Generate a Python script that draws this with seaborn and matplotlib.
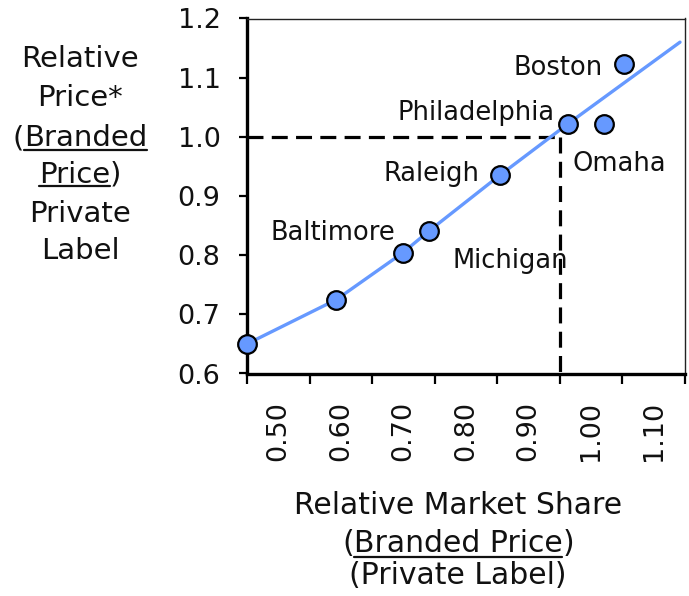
import matplotlib
matplotlib.use("Agg")
import matplotlib.pyplot as plt
from matplotlib.lines import Line2D
import pandas as pd
import seaborn as sns

# city points (x = relative market share, y = relative price)
cities = ['Unlabelled A', 'Unlabelled B', 'Baltimore', 'Michigan', 'Raleigh',
          'Philadelphia', 'Omaha', 'Boston']
share = [0.45, 0.593, 0.699, 0.741, 0.854, 0.963, 1.020, 1.053]
price = [0.650, 0.725, 0.804, 0.841, 0.935, 1.022, 1.022, 1.123]

# fitted trend line
fit_share = [0.45, 0.593, 0.699, 0.741, 0.854, 0.963, 1.142]
fit_price = [0.650, 0.725, 0.804, 0.841, 0.935, 1.022, 1.160]

# reference point (dashed guides)
ref_share = 0.95
ref_price = 1.0

x_labels = ['0.50', '0.60', '0.70', '0.80', '0.90', '1.00', '1.10']
x_label_pos = [0.50, 0.60, 0.70, 0.80, 0.90, 1.00, 1.10]
x_bounds = [0.45, 0.55, 0.65, 0.75, 0.85, 0.95, 1.05, 1.15]
y_ticks = [0.6, 0.7, 0.8, 0.9, 1.0, 1.1, 1.2]

BLUE = '#6699FF'

sns.set_theme(style='white')
plt.rcParams['font.family'] = ['DejaVu Sans']

W, H = 689, 596
fig = plt.figure(figsize=(W / 100, H / 100), dpi=100)
ax = fig.add_axes([247 / W, 1 - 373.5 / H, 438 / W, 355 / H])

pts = pd.DataFrame({'city': cities, 'share': share, 'price': price})
fit = pd.DataFrame({'share': fit_share, 'price': fit_price})

ax.plot([x_bounds[0], ref_share], [ref_price, ref_price], color='black', lw=2.3,
        ls=(0, (5, 2.6)), zorder=2)
ax.plot([ref_share, ref_share], [ref_price, y_ticks[0]], color='black', lw=2.3,
        ls=(0, (5, 2.6)), zorder=2)
sns.lineplot(data=fit, x='share', y='price', ax=ax, color=BLUE, lw=2.4,
             sort=False, zorder=3)
sns.scatterplot(data=pts, x='share', y='price', ax=ax, s=180, color=BLUE,
                edgecolor='black', linewidth=1.6, zorder=4, clip_on=False)

# city labels (drawn under the dashed guides, as in the original)
fs = 18.5
lab = dict(fontsize=fs, color='#111111', va='baseline', zorder=1.5)
ax.text(1.018, 1.105, 'Boston', ha='right', **lab)
ax.text(0.941, 1.029, 'Philadelphia', ha='right', **lab)
ax.text(0.970, 0.942, 'Omaha', ha='left', **lab)
ax.text(0.822, 0.926, 'Raleigh', ha='right', **lab)
ax.text(0.6875, 0.826, 'Baltimore', ha='right', **lab)
ax.text(0.7786, 0.778, 'Michigan', ha='left', **lab)

ax.set_xlim(x_bounds[0], x_bounds[-1])
ax.set_ylim(y_ticks[0], y_ticks[-1])
ax.set_xticks(x_bounds)
ax.set_xticklabels([])
ax.set_xticks(x_label_pos, minor=True)
ax.set_xticklabels(x_labels, minor=True, rotation=90, fontsize=19.5,
                   color='#111111')
ax.set_yticks(y_ticks)
ax.set_yticklabels([f'{v:.1f}' for v in y_ticks], fontsize=19.5,
                   color='#111111')
ax.tick_params(axis='x', which='major', direction='out', length=7, width=1.6,
               color='black', bottom=True)
ax.tick_params(axis='x', which='minor', length=0, pad=20, bottom=True)
ax.tick_params(axis='y', direction='out', length=6, width=1.6, color='black',
               left=True, pad=13)
ax.set_xlabel('')
ax.set_ylabel('')
for side in ['left', 'bottom']:
    ax.spines[side].set_color('black')
    ax.spines[side].set_linewidth(2.4)
for side in ['top', 'right']:
    ax.spines[side].set_color('#222222')
    ax.spines[side].set_linewidth(1.0)

# multi-line titles with underlined words
renderer = fig.canvas.get_renderer()


def text_line(cx, cy, parts, size=20.5, gap=4):
    items = []
    for s, ul in parts:
        t = fig.text(0, 0, s, fontsize=size, color='#111111', ha='left',
                     va='baseline')
        items.append((t, ul))
    widths = [t.get_window_extent(renderer).width for t, _ in items]
    x = cx - sum(widths) / 2
    for (t, ul), w in zip(items, widths):
        t.set_position((x / W, 1 - cy / H))
        if ul:
            yy = 1 - (cy + gap) / H
            fig.add_artist(Line2D([x / W, (x + w) / W], [yy, yy],
                                  color='#111111', lw=1.6))
        x += w


# y label
ylab = [
    (67, [('Relative', False)]),
    (106, [('Price*', False)]),
    (146, [('(', False), ('Branded', True)]),
    (183, [('Price', True), (')', False)]),
    (222, [('Private', False)]),
    (259, [('Label', False)]),
]
for cy, parts in ylab:
    text_line(80, cy, parts, size=21, gap=3.5)

# x label
xlab = [
    (514, [('Relative Market Share', False)]),
    (552, [('(', False), ('Branded Price', True), (')', False)]),
    (584, [('(Private Label)', False)]),
]
for cy, parts in xlab:
    text_line(458, cy, parts, size=21.5, gap=5)

fig.savefig('out.png', dpi=100)
